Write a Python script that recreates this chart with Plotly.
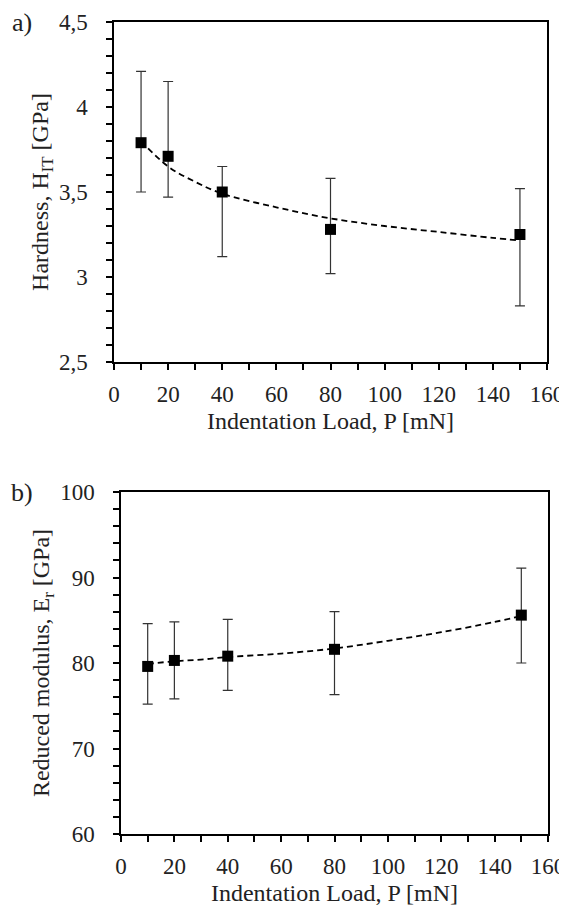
import plotly.graph_objects as go
from plotly.subplots import make_subplots

# ---------------------------------------------------------------
# Data
# ---------------------------------------------------------------
load = [10, 20, 40, 80, 150]

hardness = [3.79, 3.71, 3.50, 3.28, 3.25]
hardness_hi = [4.21, 4.15, 3.65, 3.58, 3.52]
hardness_lo = [3.50, 3.47, 3.12, 3.02, 2.83]

modulus = [79.6, 80.3, 80.8, 81.6, 85.6]
modulus_hi = [84.6, 84.8, 85.1, 86.0, 91.1]
modulus_lo = [75.2, 75.8, 76.8, 76.3, 80.0]

# dashed trend lines
trend_load = [10, 20, 30, 40, 60, 80, 100, 120, 140, 150]
hardness_trend = [3.80, 3.65, 3.56, 3.49, 3.41, 3.345, 3.30, 3.265, 3.23, 3.215]
modulus_trend = [79.9, 80.2, 80.4, 80.7, 81.1, 81.7, 82.6, 83.6, 84.8, 85.5]

FONT = "Liberation Serif, Times New Roman, serif"
W, H = 567, 911
OFF = 8  # the page body adds an 8px margin around the plot div

def px_x(p):
    return (p - OFF) / W

def px_y(p):
    return 1 - (p - OFF) / H

# ---------------------------------------------------------------
# Build the figure
# ---------------------------------------------------------------
fig = make_subplots(rows=2, cols=1)

def add_panel(row, y, hi, lo, trend):
    fig.add_trace(go.Scatter(
        x=trend_load, y=trend, mode="lines",
        line=dict(color="black", width=1.8, dash="6px,4px", shape="spline"),
        hoverinfo="skip", showlegend=False), row=row, col=1)
    fig.add_trace(go.Scatter(
        x=load, y=y, mode="markers",
        marker=dict(symbol="square", size=11, color="black"),
        error_y=dict(type="data", symmetric=False,
                     array=[h - v for h, v in zip(hi, y)],
                     arrayminus=[v - l for l, v in zip(lo, y)],
                     color="#333333", thickness=1.2, width=5),
        showlegend=False), row=row, col=1)

add_panel(1, hardness, hardness_hi, hardness_lo, hardness_trend)
add_panel(2, modulus, modulus_hi, modulus_lo, modulus_trend)

axis_common = dict(
    showgrid=False, zeroline=False, automargin=False,
    showline=True, linecolor="black", linewidth=1.5, mirror=True,
    ticks="outside", ticklen=6, tickwidth=1.5, tickcolor="black",
    tickfont=dict(family=FONT, size=23, color="#222"),
    title_font=dict(family=FONT, size=24, color="#222"),
)
minor_style = dict(ticks="outside", ticklen=6, tickwidth=1.5, tickcolor="black")

for ax in ("xaxis", "xaxis2"):
    fig.layout[ax].update(axis_common, range=[0, 160], dtick=20, tick0=0,
                          minor=dict(dtick=10, **minor_style),
                          ticklabelstandoff=5,
                          title=dict(text="Indentation Load, P [mN]", standoff=6))

fig.update_layout(
    xaxis=dict(domain=[px_x(114), px_x(547)]),
    xaxis2=dict(domain=[px_x(121), px_x(548)]),
    yaxis=dict(axis_common, range=[2.5, 4.5], dtick=0.5, tick0=2.5,
               minor=dict(dtick=0.1, **minor_style),
               ticklabelstandoff=14,
               domain=[px_y(362), px_y(22)],
               title=dict(text="Hardness, H<sub>IT</sub> [GPa]", standoff=4)),
    yaxis2=dict(axis_common, range=[60, 100], dtick=10, tick0=60,
                minor=dict(dtick=2, **minor_style),
                ticklabelstandoff=14,
                domain=[px_y(834), px_y(492)],
                title=dict(text="Reduced modulus, E<sub>r</sub> [GPa]", standoff=4)),
)

# panel letters
for label, ypix in (("a)", 22), ("b)", 492)):
    fig.add_annotation(text=label, xref="paper", yref="paper",
                       x=px_x(22), y=px_y(ypix), showarrow=False,
                       xanchor="center", yanchor="middle",
                       font=dict(family=FONT, size=26, color="#222"))

fig.update_layout(
    template="none",
    width=W, height=H,
    margin=dict(l=0, r=0, t=0, b=0),
    separators=",.",
    paper_bgcolor="white", plot_bgcolor="white",
    font=dict(family=FONT, color="#222"),
)

fig.write_html("out.html")
